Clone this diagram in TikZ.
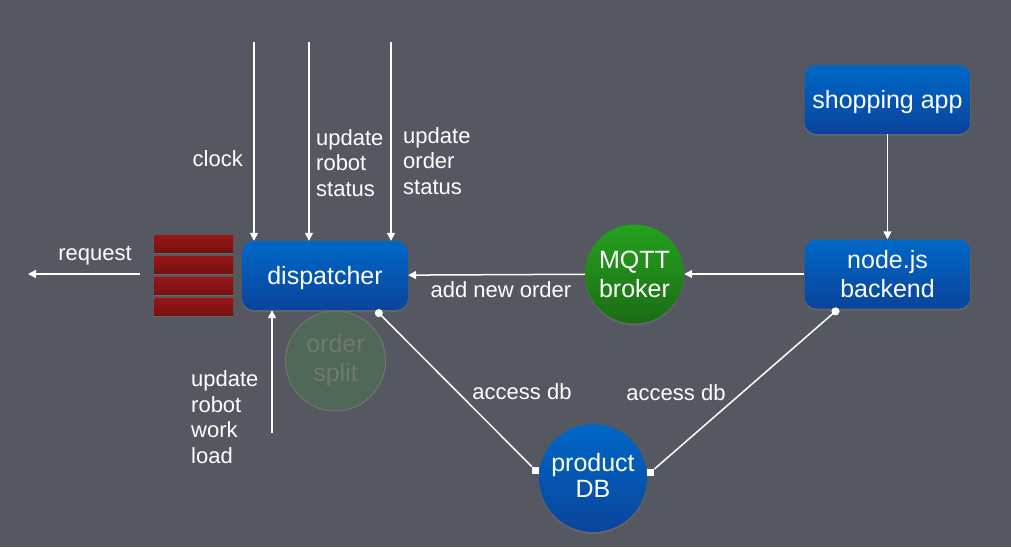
\documentclass[tikz,border=0pt]{standalone}
\usepackage{fontspec}
\setmainfont{Liberation Sans}
\usetikzlibrary{arrows.meta,shadows}
\definecolor{slate}{RGB}{85,88,96}
\definecolor{bluetop}{RGB}{0,104,200}
\definecolor{bluebot}{RGB}{10,68,156}
\definecolor{greentop}{RGB}{36,162,30}
\definecolor{greenbot}{RGB}{28,108,20}
\definecolor{redtop}{RGB}{150,22,22}
\definecolor{redbot}{RGB}{120,16,16}
\definecolor{splitfill}{RGB}{80,104,88}
\definecolor{splitdraw}{RGB}{112,116,114}
\definecolor{splittext}{RGB}{112,120,114}
\begin{document}
\begin{tikzpicture}[x=1pt,y=-1pt,
    >={Triangle[length=8pt,width=8pt]},
    line/.style={draw=white,line width=1.5pt},
    lbl/.style={text=white,inner sep=0pt,align=left,font=\fontsize{22}{25.5}\selectfont},
    box/.style={rounded corners=12pt,minimum width=166pt,minimum height=69pt,
        top color=bluetop,bottom color=bluebot,text=white,align=center,
        font=\fontsize{25}{29}\selectfont,
        drop shadow={shadow xshift=0pt,shadow yshift=-2pt,opacity=0.35}},
    ball/.style={circle,inner sep=0pt,text=white,align=center,
        font=\fontsize{25}{29}\selectfont,
        drop shadow={shadow xshift=0pt,shadow yshift=-2pt,opacity=0.35}},
    bar/.style={minimum width=79pt,minimum height=17pt,inner sep=0pt,
        top color=redtop,bottom color=redbot,
        drop shadow={shadow xshift=0pt,shadow yshift=-1pt,opacity=0.4}},
    sq/.style={fill=white,minimum size=7pt,inner sep=0pt}]
    \fill[slate] (0,0) rectangle (1011,547);
    % boxes and circles
    \node[box,text depth=0pt] (disp) at (325,275.5) {dispatcher};
    \node[box,text depth=0pt] (shop) at (887.5,99.5) {shopping app};
    \node[box] (nodejs) at (887.5,274) {node.js\\backend};
    \node[ball,minimum size=99pt,top color=greentop,bottom color=greenbot] (mqtt) at (634.5,274) {MQTT\\broker};
    \node[ball,minimum size=108pt,top color=bluetop,bottom color=bluebot] (db) at (593,478) {product\\[-3pt]DB\vphantom{p}};
    \node[circle,minimum size=100pt,inner sep=0pt,fill=splitfill,draw=splitdraw,line width=1pt,
        text=splittext,align=center,font=\fontsize{25}{29}\selectfont] (split) at (335.5,361) {order\\split};
    \foreach \i in {1,...,4}
        \node[bar] (bar\i) at (193.5,{223+21*\i}) {};
    \node[sq,anchor=east] (sq1) at (db.172) {};
    \node[sq,anchor=west] (sq2) at (db.6) {};
    % free ends
    \coordinate (clk) at (254,42);
    \coordinate (rs) at (309,42);
    \coordinate (os) at (391,42);
    \coordinate (wl) at (272,433);
    \coordinate (reqA) at (140,274);
    \coordinate (reqB) at (28,274);
    % connectors
    \draw[line,->] (clk) -- ([xshift=-71pt]disp.north);
    \draw[line,->] (rs) -- ([xshift=-16pt]disp.north);
    \draw[line,->] (os) -- ([xshift=66pt]disp.north);
    \draw[line,->] (wl) -- ([xshift=-53pt]disp.south);
    \draw[line,->] (reqA) -- (reqB);
    \draw[line,->] (shop) -- (nodejs);
    \draw[line,->] (nodejs) -- (mqtt);
    \draw[line,->] (mqtt) -- (disp);
    \draw[line,{Circle[length=8pt]}-] ([xshift=51pt]disp.south) -- (sq1);
    \draw[line,{Circle[length=8pt]}-] ([xshift=-49pt]nodejs.south) -- (sq2);
    % labels
    \node[lbl,anchor=east] (clklbl) at (243,159) {clock};
    \node[lbl,anchor=west] (rslbl) at (316,163) {update\\robot\\status};
    \node[lbl,anchor=west] (oslbl) at (403,161) {update\\order\\status};
    \node[lbl,anchor=west] (wllbl) at (191,417) {update\\robot\\work\\load};
    \node[lbl,text depth=0pt] (reqlbl) at (95,253) {request};
    \node[lbl] (addlbl) at (501,290) {add new order};
    \node[lbl] (acc1) at (522,392) {access db};
    \node[lbl] (acc2) at (676,393) {access db};
\end{tikzpicture}
\end{document}
